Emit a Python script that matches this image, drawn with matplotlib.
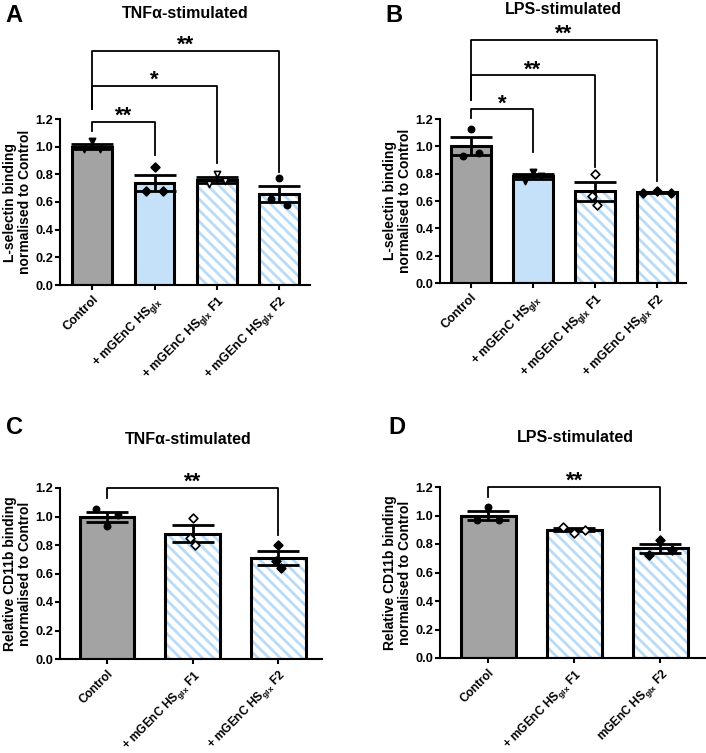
import numpy as np
import matplotlib.pyplot as plt

plt.rcParams['font.family'] = ['Liberation Sans', 'DejaVu Sans']
plt.rcParams['font.weight'] = 'bold'
plt.rcParams['mathtext.default'] = 'regular'
plt.rcParams['hatch.linewidth'] = 2.0

GREY = '#a3a3a3'
BLUE = '#c4e1f9'
HATCH_BLUE = '#b8dbf7'

# ---- data ----
labels_ab = ['Control', '+ mGEnC HS$_{glx}$', '+ mGEnC HS$_{glx}$ F1', '+ mGEnC HS$_{glx}$ F2']
labels_c = ['Control', '+ mGEnC HS$_{glx}$ F1', '+ mGEnC HS$_{glx}$ F2']
labels_d = ['Control', '+ mGEnC HS$_{glx}$ F1', 'mGEnC HS$_{glx}$ F2']

pts_a = [[1.04, 0.98, 0.98], [0.85, 0.68, 0.68], [0.80, 0.73, 0.75], [0.77, 0.62, 0.58]]
pts_b = [[1.13, 0.93, 0.95], [0.81, 0.75, 0.78], [0.80, 0.64, 0.57], [0.67, 0.66, 0.66]]
pts_c = [[0.93, 1.05, 1.01], [0.99, 0.85, 0.80], [0.80, 0.69, 0.64]]
pts_d = [[1.06, 0.97, 0.97], [0.88, 0.92, 0.90], [0.83, 0.72, 0.76]]

# (target bar, bracket height, left leg end, right leg end, stars)
sig_a = [(1, 1.18, 1.11, 0.94, '**'), (2, 1.44, 1.27, 0.88, '*'), (3, 1.69, 1.27, 0.82, '**')]
sig_b = [(1, 1.27, 1.21, 0.96, '*'), (2, 1.52, 1.34, 0.85, '**'), (3, 1.78, 1.34, 0.75, '**')]
sig_c = [(2, 1.2, 1.13, 0.87, '**')]
sig_d = [(2, 1.2, 1.13, 0.90, '**')]

ylab_ls = 'L-selectin binding\nnormalised to Control'
ylab_cd = 'Relative CD11b binding\nnormalised to Control'


def draw_panel(ax, labels, pts, styles, markers, sigs, ylab, xlim, width_px, spread=None, xfs=9):
    n = len(pts)
    x = np.arange(n)
    for i in range(n):
        v = np.array(pts[i])
        m = v.mean()
        sem = v.std(ddof=1) / np.sqrt(len(v))
        if styles[i] == 'grey':
            ax.bar(i, m, 0.64, color=GREY, edgecolor='none', zorder=1)
        elif styles[i] == 'blue':
            ax.bar(i, m, 0.64, color=BLUE, edgecolor='none', zorder=1)
        else:
            ax.bar(i, m, 0.64, color='white', edgecolor=HATCH_BLUE, hatch='\\\\\\', lw=0, zorder=1)
        ax.bar(i, m, 0.64, fill=False, edgecolor='black', lw=2.2, zorder=2)
        ax.errorbar(i, m, yerr=sem, color='black', lw=2, capsize=15, capthick=2, zorder=3)
        sp = 0.13 if spread is None else spread[i]
        offs = np.array([0, -sp, sp])
        mk, filled = markers[i]
        ax.scatter(i + offs, v, marker=mk, s=20, zorder=4, linewidths=1.2,
                   facecolor='black' if filled else 'white', edgecolor='black')
    for j, h, yl, yr, txt in sigs:
        ax.plot([0, 0, j, j], [yl, h, h, yr], color='black', lw=1.3,
                clip_on=False, zorder=5)
        ax.text(j / 2, h, txt, ha='center', va='baseline', fontsize=16,
                fontweight='bold')
    ax.set_xlim(*xlim)
    ax.set_ylim(0, 1.2)
    ax.set_yticks(np.arange(0, 1.21, 0.2))
    ax.set_yticklabels(['%.1f' % t for t in np.arange(0, 1.21, 0.2)], fontsize=9.2)
    ax.set_xticks(x)
    ax.set_xticklabels(labels, rotation=45, ha='right', rotation_mode='anchor', fontsize=xfs)
    ax.set_ylabel(ylab, fontsize=10, fontweight='bold', linespacing=1.1)
    # label anchor is its right edge, just left of the tick labels
    ax.yaxis.set_label_coords(-28 / width_px, 0.5)
    for s in ['top', 'right']:
        ax.spines[s].set_visible(False)
    for s in ['left', 'bottom']:
        ax.spines[s].set_linewidth(1.5)
    ax.tick_params(width=1.5, length=3.5)
    ax.tick_params(axis='y', pad=1.5)
    ax.tick_params(axis='x', pad=2.5)


W, H = 706, 753
fig = plt.figure(figsize=(W / 100, H / 100), dpi=100)

def axpx(l, r, b, t):
    return fig.add_axes([l / W, 1 - b / H, (r - l) / W, (b - t) / H])

axA = axpx(60, 310, 285, 119)
axB = axpx(440, 686, 283, 119)
axC = axpx(60, 322, 659, 488)
axD = axpx(440, 706, 658, 487)

draw_panel(axA, labels_ab, pts_a, ['grey', 'blue', 'hatch', 'hatch'],
           [('v', True), ('D', True), ('v', False), ('o', True)], sig_a, ylab_ls, (-0.52, 3.5), 250)
draw_panel(axB, labels_ab, pts_b, ['grey', 'blue', 'hatch', 'hatch'],
           [('o', True), ('v', True), ('D', False), ('D', True)], sig_b, ylab_ls, (-0.5, 3.47), 246,
           spread=[0.13, 0.13, 0.04, 0.22])
draw_panel(axC, labels_c, pts_c, ['grey', 'hatch', 'hatch'],
           [('o', True), ('D', False), ('D', True)], sig_c, ylab_cd, (-0.55, 2.51), 262,
           spread=[0.13, 0.03, 0.03], xfs=8.6)
draw_panel(axD, labels_d, pts_d, ['grey', 'hatch', 'hatch'],
           [('o', True), ('D', False), ('D', True)], sig_d, ylab_cd, (-0.56, 2.53), 266, xfs=8.6)

def ftext(px, py, s, **kw):
    fig.text(px / W, 1 - py / H, s, **kw)

ftext(5, 16, 'A', fontsize=17, fontweight='bold', va='center')
ftext(385, 16, 'B', fontsize=17, fontweight='bold', va='center')
ftext(6, 427, 'C', fontsize=17, fontweight='bold', va='center')
ftext(388, 427, 'D', fontsize=17, fontweight='bold', va='center')
ftext(185, 14, 'TNFα-stimulated', fontsize=11.5, fontweight='bold', ha='center', va='center')
ftext(563, 9, 'LPS-stimulated', fontsize=11.5, fontweight='bold', ha='center', va='center')
ftext(188, 439, 'TNFα-stimulated', fontsize=11.5, fontweight='bold', ha='center', va='center')
ftext(575, 437, 'LPS-stimulated', fontsize=11.5, fontweight='bold', ha='center', va='center')

fig.savefig('out.png', dpi=100)
